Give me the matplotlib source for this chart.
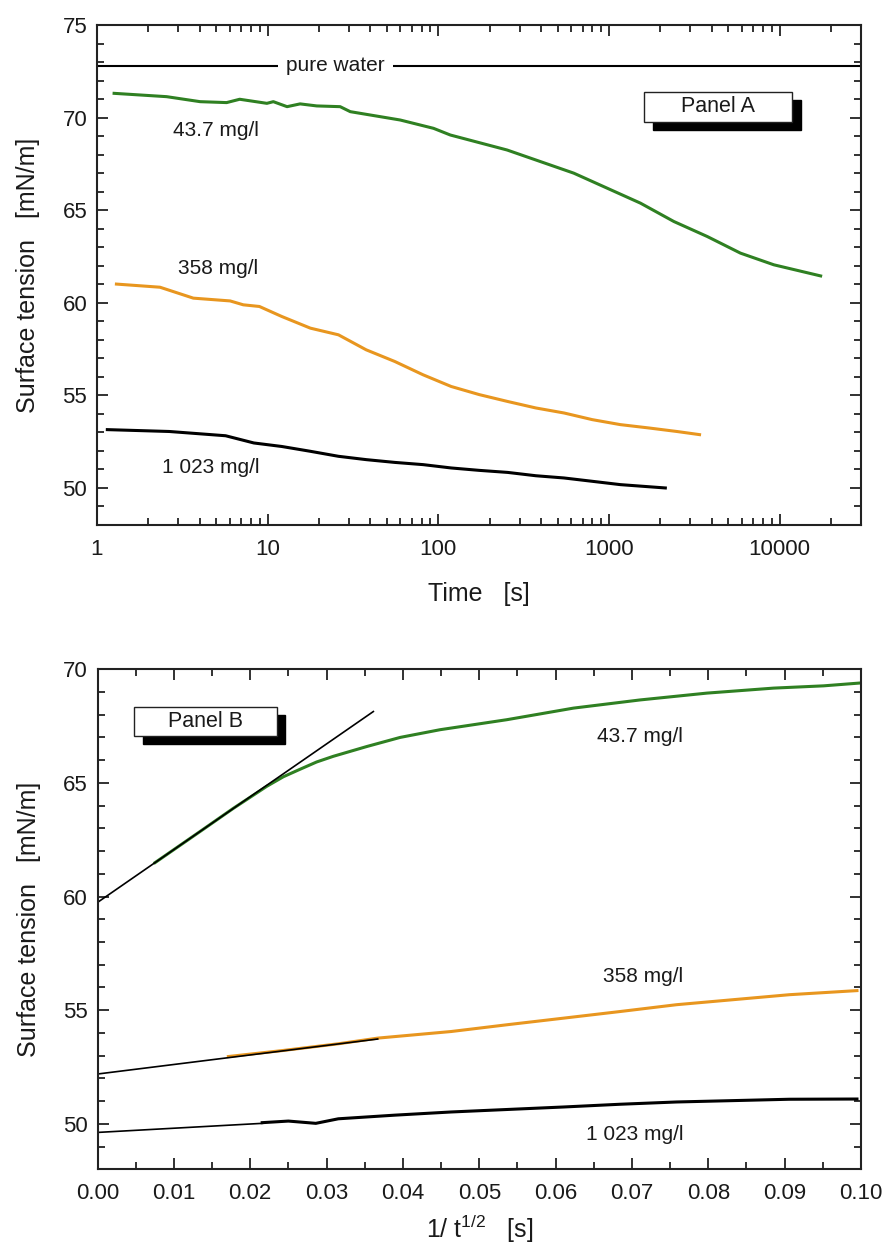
import matplotlib
matplotlib.use("Agg")
import matplotlib.pyplot as plt
from matplotlib.patches import Rectangle
from matplotlib.ticker import MultipleLocator, LogLocator, NullFormatter, FormatStrFormatter

plt.rcParams['font.family'] = ['Liberation Sans', 'DejaVu Sans']
plt.rcParams['mathtext.default'] = 'regular'
txt_col = '#1a1a1a'

green = '#2f8022'
orange = '#e8961f'

# ---- Panel A: surface tension vs time (log) ----
t_437 = [1.26, 2.56, 4.02, 5.75, 6.86, 9.9, 10.8, 13, 15.5, 19.4, 26.6, 30.5, 45.7, 59.8, 93.8,
         117.6, 253, 622, 1530, 2400, 3765, 5900, 9260, 17400]
g_437 = [71.31, 71.13, 70.86, 70.81, 70.99, 70.77, 70.86, 70.59, 70.74, 70.63, 70.59, 70.32, 70.05,
         69.87, 69.42, 69.06, 68.25, 67.0, 65.38, 64.39, 63.58, 62.68, 62.05, 61.45]

t_358 = [1.30, 2.34, 3.67, 6.03, 7.2, 8.95, 12.1, 17.8, 26, 37.8, 55.6, 81.5, 119, 174, 255, 373,
         545, 798, 1167, 1713, 2500, 3396]
g_358 = [61.01, 60.84, 60.25, 60.1, 59.89, 59.8, 59.26, 58.63, 58.27, 57.46, 56.83, 56.11, 55.48,
         55.04, 54.67, 54.32, 54.05, 53.69, 53.42, 53.24, 53.05, 52.88]

t_1023 = [1.15, 2.65, 5.67, 8.3, 12.1, 17.8, 26, 37.8, 55.6, 81.5, 119, 174, 255, 373, 545, 798,
          1167, 2140]
g_1023 = [53.15, 53.05, 52.82, 52.43, 52.24, 51.98, 51.71, 51.53, 51.38, 51.26, 51.08, 50.95,
          50.84, 50.66, 50.54, 50.36, 50.18, 50.0]

pure_water = 72.8

# ---- Panel B: surface tension vs 1/sqrt(t) ----
x_437 = [0.00753, 0.01343, 0.01779, 0.02217, 0.02434, 0.02653, 0.0287, 0.03089, 0.03527, 0.03963,
         0.04487, 0.05361, 0.06234, 0.07107, 0.07981, 0.08854, 0.0951, 0.0997]
y_437 = [61.49, 62.86, 63.88, 64.85, 65.27, 65.6, 65.92, 66.17, 66.6, 67.0, 67.34, 67.78, 68.29,
         68.65, 68.95, 69.17, 69.27, 69.39]

x_358 = [0.01714, 0.02416, 0.03154, 0.03671, 0.04631, 0.05369, 0.06108, 0.06845, 0.07584, 0.08323,
         0.09062, 0.09947]
y_358 = [52.96, 53.22, 53.52, 53.77, 54.06, 54.36, 54.65, 54.94, 55.24, 55.46, 55.68, 55.86]

x_1023 = [0.02157, 0.02500, 0.02859, 0.03154, 0.03893, 0.04631, 0.05369, 0.06108, 0.06845,
          0.07584, 0.08323, 0.09062, 0.09947]
y_1023 = [50.05, 50.12, 50.02, 50.22, 50.38, 50.52, 50.63, 50.74, 50.86, 50.96, 51.02, 51.08, 51.09]

# linear extrapolations to t -> infinity (intercept, end x, end y)
fit_437 = ([0.0, 0.03613], [59.74, 68.14])
fit_358 = ([0.0, 0.0367], [52.19, 53.73])
fit_1023 = ([0.0, 0.0216], [49.62, 50.02])

fig = plt.figure(figsize=(8.84, 12.5), dpi=100)
axA = fig.add_axes([0.1097, 0.58, 0.8643, 0.40])
axB = fig.add_axes([0.1103, 0.0646, 0.8637, 0.40])


def style(ax):
    for s in ax.spines.values():
        s.set_linewidth(1.5)
        s.set_color('#222222')
    ax.tick_params(which='both', direction='in', top=True, right=True, width=1.3,
                   colors='#222222', labelcolor=txt_col, labelsize=16)
    ax.tick_params(which='major', length=8)
    ax.tick_params(which='minor', length=5)
    ax.tick_params(axis='x', pad=10)
    ax.tick_params(axis='y', pad=7)


def panel_box(ax, x0, y0, w, h, label):
    ax.add_patch(Rectangle((x0 + 0.011, y0 - 0.017), w, h, transform=ax.transAxes,
                           facecolor='black', edgecolor='black', zorder=5))
    ax.add_patch(Rectangle((x0, y0), w, h, transform=ax.transAxes,
                           facecolor='white', edgecolor='#222222', lw=1.0, zorder=6))
    ax.text(x0 + w / 2, y0 + h / 2, label, transform=ax.transAxes, ha='center', va='center',
            fontsize=15.5, color=txt_col, zorder=7)


# Panel A
style(axA)
axA.set_xscale('log')
axA.set_xlim(1, 30000)
axA.set_ylim(48, 75)
axA.axhline(pure_water, color='black', lw=1.5, zorder=1)
axA.text(25, pure_water, 'pure water', ha='center', va='center', fontsize=15, color=txt_col,
         bbox=dict(facecolor='white', edgecolor='none', pad=6), zorder=3)
axA.plot(t_437, g_437, color=green, lw=2.2)
axA.plot(t_358, g_358, color=orange, lw=2.2)
axA.plot(t_1023, g_1023, color='black', lw=2.2)
axA.set_xticks([1, 10, 100, 1000, 10000])
axA.set_xticklabels(['1', '10', '100', '1000', '10000'])
axA.xaxis.set_minor_locator(LogLocator(base=10, subs=range(2, 10)))
axA.xaxis.set_minor_formatter(NullFormatter())
axA.yaxis.set_major_locator(MultipleLocator(5))
axA.yaxis.set_minor_locator(MultipleLocator(1))
axA.text(5.0, 69.33, '43.7 mg/l', ha='center', va='center', fontsize=15, color=txt_col)
axA.text(5.1, 61.83, '358 mg/l', ha='center', va='center', fontsize=15, color=txt_col)
axA.text(4.66, 51.1, '1 023 mg/l', ha='center', va='center', fontsize=15, color=txt_col)
panel_box(axA, 0.7164, 0.8066, 0.1937, 0.06, 'Panel A')
axA.set_xlabel('Time   [s]', fontsize=18, color=txt_col, labelpad=16)
axA.set_ylabel('Surface tension   [mN/m]', fontsize=18, color=txt_col, labelpad=16)

# Panel B
style(axB)
axB.set_xlim(0, 0.1)
axB.set_ylim(48, 70)
axB.plot(x_437, y_437, color=green, lw=2.2)
axB.plot(x_358, y_358, color=orange, lw=2.2)
axB.plot(x_1023, y_1023, color='black', lw=2.2)
for fx, fy in (fit_437, fit_358, fit_1023):
    axB.plot(fx, fy, color='black', lw=1.2)
axB.xaxis.set_major_locator(MultipleLocator(0.01))
axB.xaxis.set_minor_locator(MultipleLocator(0.005))
axB.xaxis.set_major_formatter(FormatStrFormatter('%.2f'))
axB.yaxis.set_major_locator(MultipleLocator(5))
axB.yaxis.set_minor_locator(MultipleLocator(1))
axB.text(0.0711, 67.04, '43.7 mg/l', ha='center', va='center', fontsize=15, color=txt_col)
axB.text(0.0714, 56.49, '358 mg/l', ha='center', va='center', fontsize=15, color=txt_col)
axB.text(0.0703, 49.52, '1 023 mg/l', ha='center', va='center', fontsize=15, color=txt_col)
panel_box(axB, 0.0482, 0.8672, 0.1865, 0.058, 'Panel B')
axB.set_xlabel(r'1/ t$^{1/2}$   [s]', fontsize=18, color=txt_col, labelpad=6)
axB.set_ylabel('Surface tension   [mN/m]', fontsize=18, color=txt_col, labelpad=16)

fig.savefig('out.png', dpi=100)
